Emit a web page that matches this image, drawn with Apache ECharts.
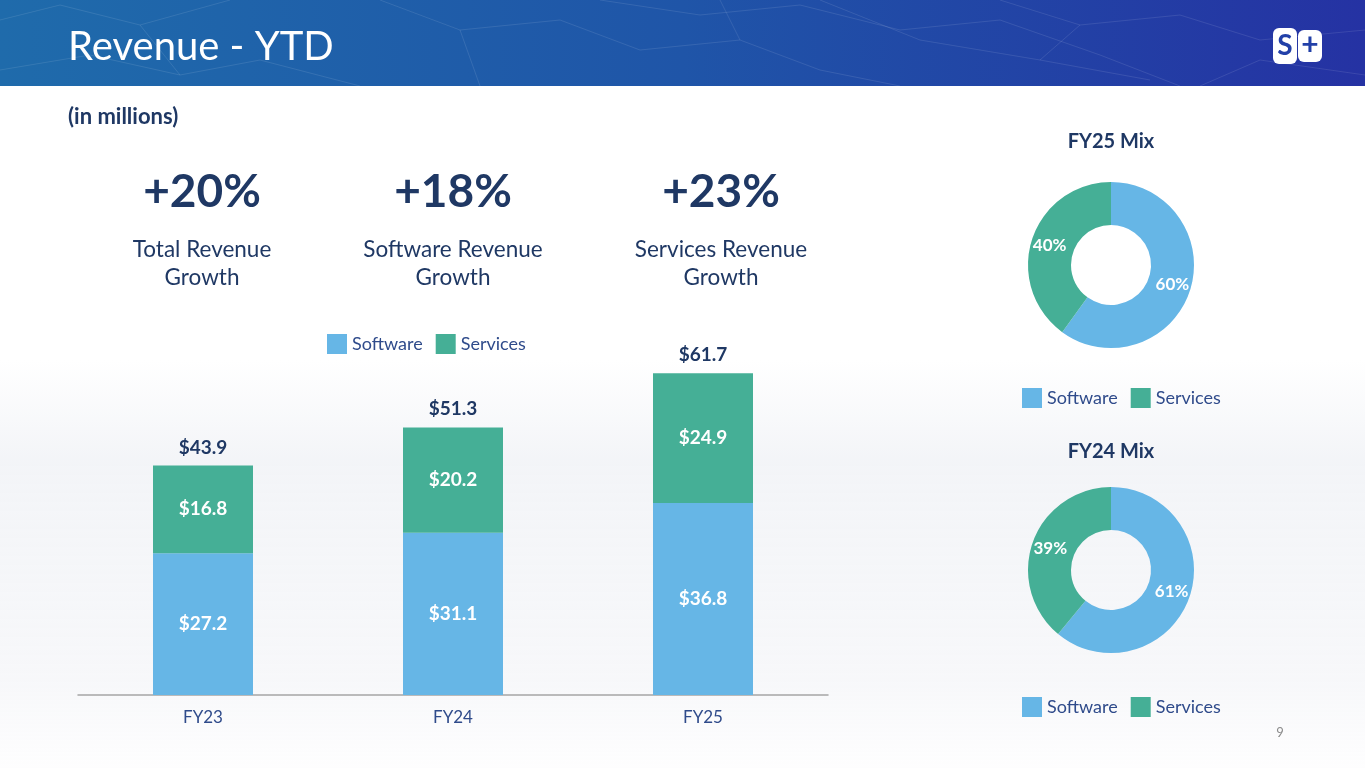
<!DOCTYPE html>
<html>
<head>
<meta charset="utf-8">
<script src="https://cdn.jsdelivr.net/npm/echarts@6/dist/echarts.min.js"></script>
<style>
html,body{margin:0;padding:0;background:#fff;}
#c{width:1365px;height:768px;}
</style>
</head>
<body>
<div id="c"></div>
<script>
const categories = ['FY23', 'FY24', 'FY25'];
const softwareRevenue = [27.2, 31.1, 36.8];
const servicesRevenue = [16.8, 20.2, 24.9];
const totalRevenue = [43.9, 51.3, 61.7];
const growthRates = ['+20%', '+18%', '+23%'];
const growthLabels = [['Total Revenue', 'Growth'], ['Software Revenue', 'Growth'], ['Services Revenue', 'Growth']];
const mixNames = ['Software', 'Services'];
const fy25Mix = [60, 40];
const fy24Mix = [61, 39];

const FONT = 'Lato';
const NAVY = '#1f3864';
const MIDBLUE = '#2f4b8b';
const SW = '#66b6e6';
const SV = '#45af96';

const chart = echarts.init(document.getElementById('c'));

const growthX = [202, 453, 721];
const graphics = [
  { type: 'rect', shape: { x: 0, y: 360, width: 1365, height: 408 }, silent: true, z: -10,
    style: { fill: new echarts.graphic.LinearGradient(0, 0, 0, 1, [
      { offset: 0, color: 'rgba(240,242,246,0)' },
      { offset: 0.25, color: 'rgba(240,242,246,0.8)' },
      { offset: 0.8, color: 'rgba(244,245,248,0.7)' },
      { offset: 1, color: 'rgba(250,250,252,0.3)' }]) } },
  { type: 'rect', shape: { x: 0, y: 0, width: 1365, height: 86 }, silent: true, z: -5,
    style: { fill: new echarts.graphic.LinearGradient(0, 0, 1, 0, [
      { offset: 0, color: '#1f6bab' },
      { offset: 0.5, color: '#1f55a8' },
      { offset: 1, color: '#2532a3' }]) } }
];
// faint network lines in the banner (decoration)
const netLines = [
  [[0, 20], [60, 5], [140, 25], [230, 0]],
  [[0, 70], [90, 55], [180, 75], [260, 60], [360, 86]],
  [[380, 0], [460, 30], [560, 20], [640, 50], [740, 40], [820, 70], [900, 86]],
  [[600, 0], [700, 15], [800, 5], [900, 30], [1000, 20], [1100, 55], [1180, 86]],
  [[820, 0], [920, 40], [1040, 60], [1150, 80]],
  [[1000, 0], [1080, 25], [1180, 15], [1260, 40], [1365, 30]],
  [[1200, 86], [1260, 60], [1365, 75]],
  [[460, 30], [480, 86]], [[740, 40], [720, 0]], [[1040, 60], [1080, 25]], [[180, 75], [140, 25]]
];
netLines.forEach(pts => graphics.push({ type: 'polyline', silent: true, z: -4, shape: { points: pts },
  style: { stroke: 'rgba(255,255,255,0.10)', lineWidth: 1, fill: null } }));
graphics.push(
  { type: 'text', x: 68, y: 47, style: { text: 'Revenue - YTD', fill: '#ffffff', font: '40px ' + FONT, verticalAlign: 'middle' } },
  { type: 'rect', shape: { x: 1273, y: 28, width: 24, height: 36, r: 6 }, style: { fill: '#ffffff' } },
  { type: 'rect', shape: { x: 1298, y: 30, width: 24, height: 32, r: 6 }, style: { fill: '#ffffff' } },
  { type: 'text', x: 1285, y: 46, style: { text: 'S', fill: '#2240a8', font: 'bold 28px ' + FONT, align: 'center', verticalAlign: 'middle' } },
  { type: 'text', x: 1310, y: 45, style: { text: '+', fill: '#2240a8', font: 'bold 30px ' + FONT, align: 'center', verticalAlign: 'middle' } },
  { type: 'text', x: 68, y: 117, style: { text: '(in millions)', fill: NAVY, font: 'bold 22px ' + FONT, verticalAlign: 'middle' } },
  { type: 'text', x: 1111, y: 142, style: { text: 'FY25 Mix', fill: NAVY, font: 'bold 20px ' + FONT, align: 'center', verticalAlign: 'middle' } },
  { type: 'text', x: 1111, y: 452, style: { text: 'FY24 Mix', fill: NAVY, font: 'bold 20px ' + FONT, align: 'center', verticalAlign: 'middle' } },
  { type: 'text', x: 1280, y: 733, style: { text: '9', fill: '#8c8c8c', font: '13px ' + FONT, align: 'center', verticalAlign: 'middle' } }
);
growthRates.forEach((g, i) => {
  graphics.push({ type: 'text', x: growthX[i], y: 192, style: { text: g, fill: NAVY, font: 'bold 46px ' + FONT, align: 'center', verticalAlign: 'middle' } });
  growthLabels[i].forEach((line, j) => {
    graphics.push({ type: 'text', x: growthX[i], y: 250 + j * 28, style: { text: line, fill: NAVY, font: '22.5px ' + FONT, align: 'center', verticalAlign: 'middle' } });
  });
});

const legendCommon = {
  icon: 'rect', itemWidth: 20, itemHeight: 20, itemGap: 13,
  textStyle: { color: MIDBLUE, fontSize: 18, fontFamily: FONT },
  data: mixNames, selectedMode: false
};

function pieSeries(name, center, mix) {
  return {
    name: name, type: 'pie', center: center, radius: [40, 83], startAngle: 90, clockwise: true,
    avoidLabelOverlap: false, silent: true,
    label: { show: true, position: 'inside', formatter: '{c}%', color: '#ffffff', fontWeight: 'bold', fontSize: 17, fontFamily: FONT },
    labelLine: { show: false },
    data: mixNames.map((n, i) => ({ name: n, value: mix[i], itemStyle: { color: i === 0 ? SW : SV } }))
  };
}

const valueLabel = { show: true, position: 'inside', formatter: p => '$' + p.value.toFixed(1), color: '#fff', fontWeight: 'bold', fontSize: 19, fontFamily: FONT };

const option = {
  backgroundColor: 'transparent',
  animation: false,
  textStyle: { fontFamily: FONT },
  graphic: graphics,
  legend: [
    Object.assign({ left: 322, top: 329 }, legendCommon),
    Object.assign({ left: 1017, top: 383 }, legendCommon),
    Object.assign({ left: 1017, top: 692 }, legendCommon)
  ],
  grid: { left: 78, width: 750, top: 330, bottom: 73 },
  xAxis: {
    type: 'category', data: categories,
    axisLine: { lineStyle: { color: '#a6a6a6', width: 1.5 } },
    axisTick: { show: false },
    axisLabel: { color: MIDBLUE, fontSize: 17, fontFamily: FONT, margin: 14 }
  },
  yAxis: { type: 'value', min: 0, max: 70, show: false, splitLine: { show: false } },
  series: [
    { name: 'Software', type: 'bar', stack: 'rev', barWidth: 100, data: softwareRevenue,
      itemStyle: { color: SW }, label: valueLabel },
    { name: 'Services', type: 'bar', stack: 'rev', barWidth: 100, data: servicesRevenue,
      itemStyle: { color: SV }, label: valueLabel },
    { name: 'Total', type: 'bar', barWidth: 100, barGap: '-100%', data: totalRevenue, silent: true, z: 1,
      itemStyle: { color: 'rgba(0,0,0,0)' },
      label: { show: true, position: 'top', distance: 9, formatter: p => '$' + p.value.toFixed(1), color: NAVY, fontWeight: 'bold', fontSize: 19, fontFamily: FONT } },
    pieSeries('FY25 Mix', [1111, 265], fy25Mix),
    pieSeries('FY24 Mix', [1111, 570], fy24Mix)
  ]
};
chart.setOption(option);
</script>
</body>
</html>
